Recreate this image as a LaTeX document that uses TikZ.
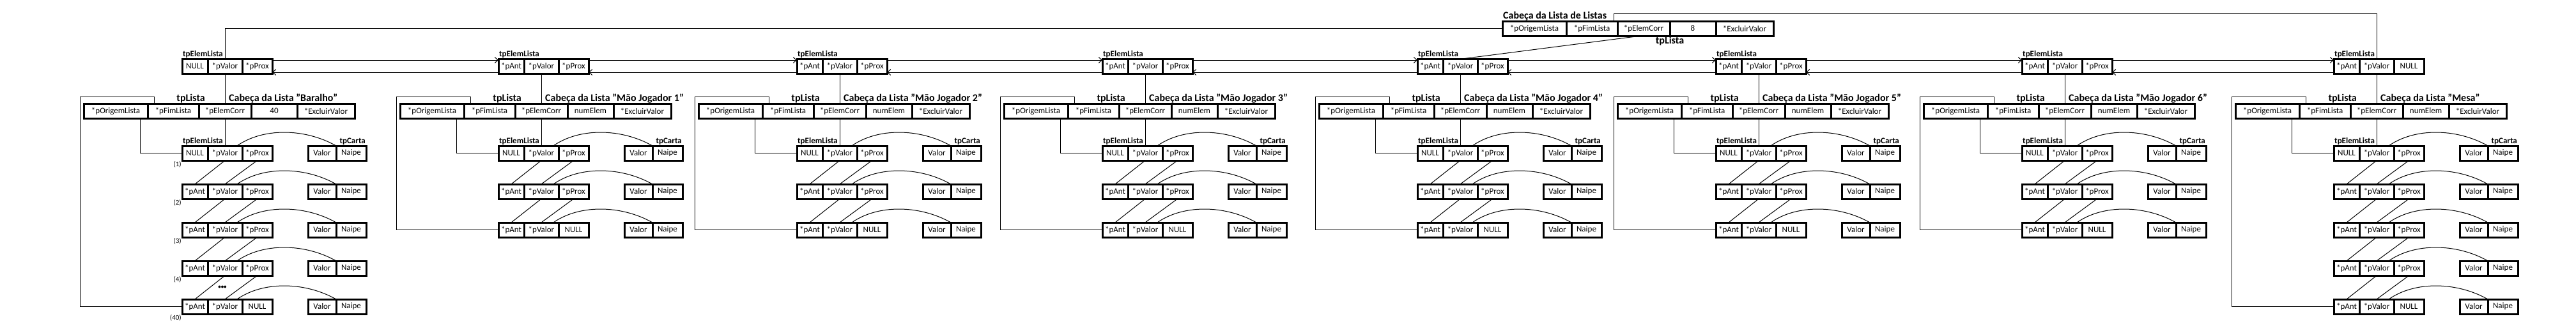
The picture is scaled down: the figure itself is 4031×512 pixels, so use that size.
\documentclass[tikz,border=0pt]{standalone}
\usepackage{fontspec}
\setmainfont{Carlito}
\usepackage{tikz}
\usetikzlibrary{positioning}
\usetikzlibrary{arrows.meta}
\tikzset{campo/.style={draw, line width=3pt, minimum height=23pt, inner sep=0pt, outer sep=0pt, font=\fontsize{13}{15}\selectfont}}
\tikzset{rotulo/.style={inner sep=1pt, font=\bfseries\fontsize{13}{15}\selectfont}}
\tikzset{titulo/.style={inner sep=1pt, font=\bfseries\fontsize{16}{19}\selectfont}}
\tikzset{numero/.style={inner sep=1pt, font=\fontsize{11}{13}\selectfont}}
\tikzset{liga/.style={line width=1pt}}
\tikzset{seta/.style={line width=1pt, -{Straight Barb[length=5pt,width=9pt]}}}
% tpElemLista: nome, x do *pValor, y do topo, primeiro campo, ultimo campo
\newcommand{\elemlista}[5]{%
\node[campo, minimum width=54pt, anchor=north] (#1v) at ({#2},{#3}) {*pValor};
\node[campo, minimum width=40pt, left=0pt of #1v] (#1a) {#4};
\node[campo, minimum width=47pt, right=0pt of #1v] (#1p) {#5};}
% tpLista: nome, x do *pElemCorr, y do topo, numElem
\newcommand{\tplista}[4]{%
\node[campo, minimum width=82pt, anchor=north] (#1c) at ({#2},{#3}) {*pElemCorr};
\node[campo, minimum width=80pt, left=0pt of #1c] (#1f) {*pFimLista};
\node[campo, minimum width=100pt, left=0pt of #1f] (#1o) {*pOrigemLista};
\node[campo, minimum width=72pt, right=0pt of #1c] (#1n) {#4};
\node[campo, minimum width=90pt, right=0pt of #1n] (#1x) {*ExcluirValor};}
% tpCarta: nome, x, y do topo
\newcommand{\tpcarta}[3]{%
\node[campo, minimum width=44pt, anchor=north west] (#1v) at ({#2},{#3}) {Valor};
\node[campo, minimum width=47pt, right=0pt of #1v] (#1n) {Naipe};}
\begin{document}
\begin{tikzpicture}[x=1pt, y=-1pt]
\useasboundingbox (0,0) rectangle (4031,512);

% Cabeca da Lista de Listas
\tplista{L}{2572}{33}{8}
\node[titulo, anchor=south west] (Ltit) at (Lo.north west) {Cabeça da Lista de Listas};
\node[titulo, anchor=north] (Lrot) at (Ln.south west) {tpLista};

% uma coluna por lista
\foreach \col/\xv/\nome/\num/\nr in {1/352/Baralho/40/5, 2/847/Mão Jogador 1/numElem/3, 3/1314/Mão Jogador 2/numElem/3, 4/1792/Mão Jogador 3/numElem/3, 5/2285/Mão Jogador 4/numElem/3, 6/2752/Mão Jogador 5/numElem/3, 7/3231/Mão Jogador 6/numElem/3, 8/3719/Mesa/numElem/5}
{
\elemlista{t\col}{\xv}{92}{\ifnum\col=1 NULL\else *pAnt\fi}{\ifnum\col=8 NULL\else *pProx\fi}
\node[rotulo, anchor=south west] (r\col) at (t\col a.north west) {tpElemLista};
\tplista{h\col}{\xv}{162}{\num}
\node[titulo, anchor=south east] (p\col) at ([xshift=-30pt]h\col c.north) {tpLista};
\node[titulo, anchor=south west] (q\col) at ([xshift=5pt]h\col c.north) {Cabeça da Lista "\nome"};
\foreach \lin in {1,...,\nr} {
\elemlista{e\col\lin}{\xv}{228+60*(\lin-1)}{\ifnum\lin=1 NULL\else *pAnt\fi}{\ifnum\lin=\nr\relax NULL\else *pProx\fi}
\tpcarta{c\col\lin}{\xv+130}{228+60*(\lin-1)}
\draw[liga] ([xshift=-8pt]e\col\lin v.north east) .. controls +(40,-28) and +(-50,-28) .. (c\col\lin v.north east);
}
\foreach \lin [evaluate=\lin as \ant using int(\lin-1)] in {2,...,\nr} {
\draw[liga] (e\col\ant v.south) -- (e\col\lin a.north);
\draw[liga] (e\col\ant p.south) -- (e\col\lin v.north);
}
\node[rotulo, anchor=south west] (s\col) at (e\col1a.north west) {tpElemLista};
\node[rotulo, anchor=south east] (u\col) at (c\col1n.north east) {tpCarta};
\draw[liga] (t\col v.south) -- (h\col c.north);
\draw[liga] (h\col c.south) -- (e\col1v.north);
\draw[liga] ([xshift=-12pt]h\col f.south west) |- (e\col1a.west);
\draw[liga] ([xshift=10pt]h\col f.north west) |- ([xshift=-6pt,yshift=11pt]h\col o.north west) |- (e\col\nr a.west);
}

% lista de listas duplamente encadeada
\foreach \col [evaluate=\col as \prx using int(\col+1)] in {1,...,7} {
\draw[seta] ([yshift=-2pt]t\col p.north east) -- ([yshift=-2pt]t\prx a.north west);
\draw[seta] ([yshift=2pt]t\prx a.south west) -- ([yshift=2pt]t\col p.south east);
}
\draw[liga] (Lo.west) -| (t1v.north);
\draw[liga] ([xshift=-6pt]Lf.north east) -- ++(0,-12) -| (t8v.north);
\draw[liga] ([xshift=-4pt]Lc.south) -- ([xshift=3pt]t5v.north);

% posicoes no baralho
\node[numero, anchor=north east] (n1) at (e11a.south west) {(1)};
\node[numero, anchor=north east] (n2) at (e12a.south west) {(2)};
\node[numero, anchor=north east] (n3) at (e13a.south west) {(3)};
\node[numero, anchor=north east] (n4) at (e14a.south west) {(4)};
\node[numero, anchor=north east] (n40) at (e15a.south west) {(40)};
\node[numero, font=\bfseries\fontsize{9}{11}\selectfont] (ret) at ([xshift=-4pt,yshift=-18pt]e14v.south) {\textbullet\textbullet\textbullet};
\end{tikzpicture}
\end{document}
